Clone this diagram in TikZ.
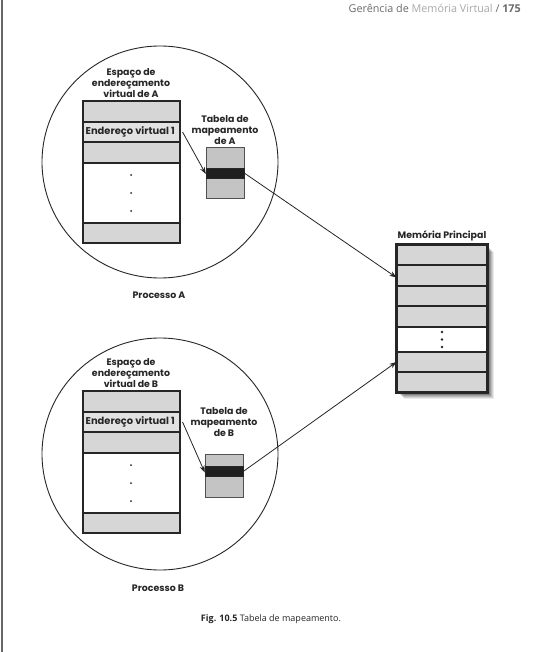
\documentclass[tikz,border=0pt]{standalone}
\usepackage{fontspec}
\setmainfont{Open Sans}
\newfontfamily\geo{Poppins}
\usetikzlibrary{arrows.meta}
\definecolor{rowgray}{HTML}{D6D6D6}
\definecolor{rowlight}{HTML}{E2E2E2}
\definecolor{tabgray}{HTML}{C4C4C4}
\definecolor{inkc}{HTML}{262626}
\definecolor{hdrgray}{HTML}{6A6A6A}
\definecolor{hdrlight}{HTML}{A8A8A8}
\tikzset{
  lbl/.style={font=\geo\bfseries\fontsize{9.4}{11.4}\selectfont, align=center, inner sep=0pt, text=inkc},
  evlbl/.style={font=\geo\bfseries\fontsize{9.9}{11.4}\selectfont, inner sep=0pt, text=inkc, anchor=west},
  rowbox/.style={draw=inkc, line width=1.1pt, minimum width=97pt, inner sep=0pt, fill=rowgray},
  membox/.style={draw=inkc, line width=1.1pt, minimum width=90pt, inner sep=0pt, fill=rowgray},
  tabbox/.style={draw=inkc!80, line width=0.6pt, minimum width=38pt, inner sep=0pt, fill=tabgray},
  band/.style={fill=black!88, draw=inkc, line width=0.4pt, minimum width=38pt, minimum height=10pt, inner sep=0pt},
  procircle/.style={draw=inkc, line width=0.9pt},
  arr/.style={draw=inkc, line width=0.8pt, -{Stealth[length=7pt,width=5pt]}},
  dotc/.style={circle, fill=inkc, inner sep=0pt, minimum size=2pt},
}
\begin{document}
\begin{tikzpicture}[x=1pt,y=-1pt]
\useasboundingbox (0,0) rectangle (537,652);
\fill[white] (0,0) rectangle (537,652);
% page edge
\draw[black!60, line width=1.5pt] (2,0) -- (2,652);
% header
\node[anchor=east, inner sep=0pt, font=\fontsize{10.8}{12}\selectfont, text=hdrgray] (hdr) at (521,8)
  {Gerência de \textcolor{hdrlight}{Memória Virtual} / \textbf{175}};

% ===== Process A =====
\draw[procircle] (160,162) ellipse [x radius=118pt, y radius=116pt];
\node[lbl] (espA) at (131,83) {Espaço de\\endereçamento\\virtual de A};
\node[rowbox, minimum height=21pt] (rA1) at (131.5,111.5) {};
\node[rowbox, fill=rowlight, minimum height=20pt] (rA2) at (131.5,132) {};
\node[rowbox, minimum height=21pt] (rA3) at (131.5,152.5) {};
\node[rowbox, fill=white, minimum height=60pt] (rA4) at (131.5,193) {};
\node[rowbox, minimum height=20pt] (rA5) at (131.5,233) {};
\node[evlbl] (evA) at (85.5,132) {Endereço virtual 1};
\node[dotc] (dA1) at (131,175) {};
\node[dotc] (dA2) at (131,193) {};
\node[dotc] (dA3) at (131,211) {};
\node[lbl] (tabA) at (225,130) {Tabela de\\mapeamento\\de A};
\node[tabbox, minimum height=51pt] (tA) at (225,172.5) {};
\node[band] (bA) at (225,173) {};
\node[lbl] (procA) at (159,295) {Processo A};

% ===== Process B =====
\draw[procircle] (160,454) ellipse [x radius=118pt, y radius=116pt];
\node[lbl] (espB) at (131,373) {Espaço de\\endereçamento\\virtual de B};
\node[rowbox, minimum height=21pt] (rB1) at (131.5,401.5) {};
\node[rowbox, fill=rowlight, minimum height=20pt] (rB2) at (131.5,422) {};
\node[rowbox, minimum height=21pt] (rB3) at (131.5,442.5) {};
\node[rowbox, fill=white, minimum height=60pt] (rB4) at (131.5,483) {};
\node[rowbox, minimum height=20pt] (rB5) at (131.5,523) {};
\node[evlbl] (evB) at (85.5,422) {Endereço virtual 1};
\node[dotc] (dB1) at (131,465) {};
\node[dotc] (dB2) at (131,483) {};
\node[dotc] (dB3) at (131,501) {};
\node[lbl] (tabB) at (224,422) {Tabela de\\mapeamento\\de B};
\node[tabbox, minimum height=43pt] (tB) at (224,475.5) {};
\node[band] (bB) at (224,471.5) {};
\node[lbl] (procB) at (158,588) {Processo B};

% ===== Main memory =====
\node[lbl] (memT) at (442,236) {Memória Principal};
% shadow
\foreach \o/\a in {7/0.08,6/0.10,5/0.12,4/0.14,3/0.16}{
  \fill[black, opacity=\a] (397+\o,245+\o) rectangle (487+\o,392+\o);
}
\node[membox, minimum height=20pt] (m1) at (442,255) {};
\node[membox, minimum height=21pt] (m2) at (442,275.5) {};
\node[membox, minimum height=20pt] (m3) at (442,296) {};
\node[membox, minimum height=21pt] (m4) at (442,316.5) {};
\node[membox, fill=white, minimum height=25pt] (m5) at (442,339.5) {};
\node[membox, minimum height=20pt] (m6) at (442,362) {};
\node[membox, minimum height=20pt] (m7) at (442,382) {};
\draw[inkc, line width=2.6pt] (m1.north west) rectangle (m7.south east);
\node[dotc, minimum size=2.6pt] (md1) at (442,332) {};
\node[dotc, minimum size=2.6pt] (md2) at (442,339.5) {};
\node[dotc, minimum size=2.6pt] (md3) at (442,347) {};

% ===== Arrows =====
\draw[arr] ([xshift=2pt]rA2.east) -- ([yshift=-1pt]bA.west);
\draw[arr] (bA.east) -- ([yshift=-2pt]m2.west);
\draw[arr] ([xshift=2pt]rB2.east) -- ([yshift=-1pt]bB.west);
\draw[arr] (bB.east) -- (m6.west);

% caption
\node[inner sep=0pt, font=\fontsize{9}{11}\selectfont, text=inkc] (cap) at (271,619)
  {\textbf{Fig. 10.5} Tabela de mapeamento.};
\end{tikzpicture}
\end{document}
